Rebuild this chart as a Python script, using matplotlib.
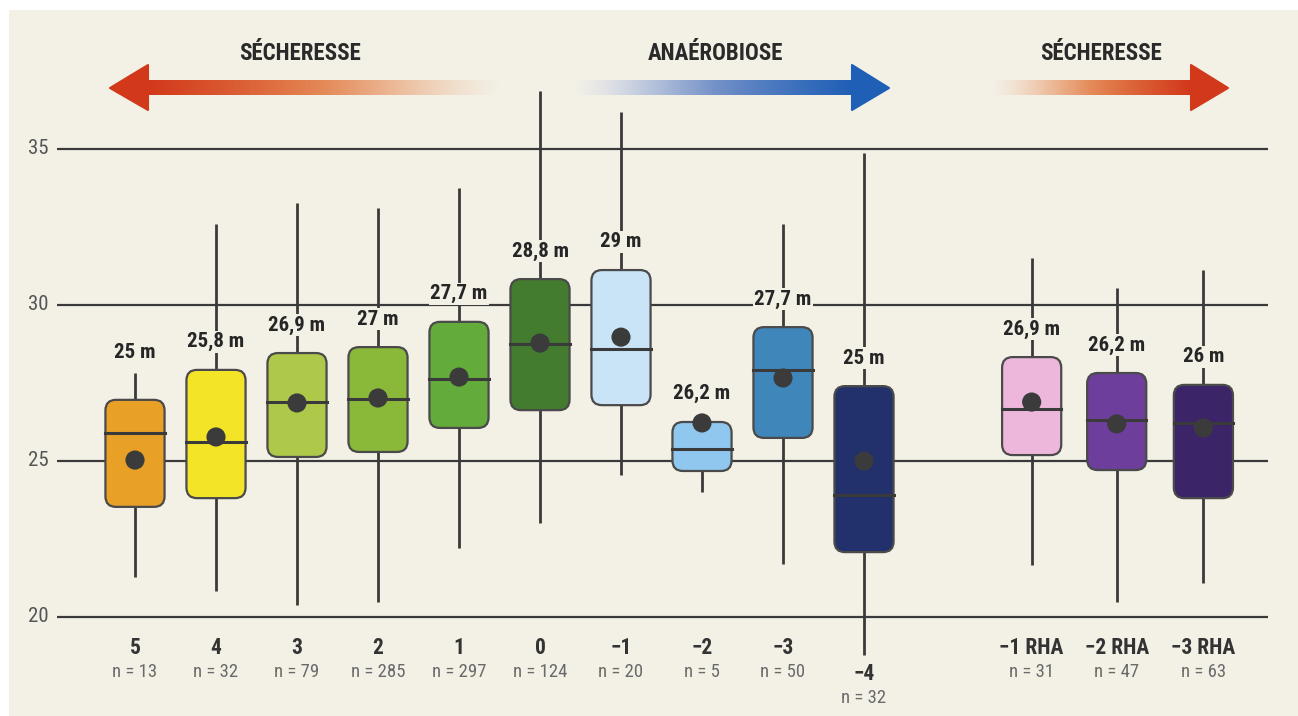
import numpy as np
import matplotlib
matplotlib.use("Agg")
import matplotlib.pyplot as plt
from matplotlib import font_manager
from matplotlib.patches import FancyBboxPatch, Rectangle, Polygon
from matplotlib.colors import LinearSegmentedColormap, to_rgb

# pick a narrow-ish family if one is there
installed = {f.name for f in font_manager.fontManager.ttflist}
main_font = 'DejaVu Sans'
for name in ['Liberation Sans Narrow', 'DejaVu Sans Condensed', 'Roboto Condensed', 'Roboto']:
    if name in installed:
        main_font = name
        break
plt.rcParams['font.family'] = [main_font, 'DejaVu Sans']

# data
categories = ["5", "4", "3", "2", "1", "0", "\u22121", "\u22122", "\u22123", "\u22124",
              "\u22121 RHA", "\u22122 RHA", "\u22123 RHA"]
n_values = [13, 32, 79, 285, 297, 124, 20, 5, 50, 32, 31, 47, 63]
mean_labels = ["25 m", "25,8 m", "26,9 m", "27 m", "27,7 m", "28,8 m", "29 m",
               "26,2 m", "27,7 m", "25 m", "26,9 m", "26,2 m", "26 m"]
means = [25.03, 25.77, 26.86, 27.02, 27.69, 28.78, 28.97, 26.22, 27.66, 25.00, 26.89, 26.19, 26.06]
medians = [25.90, 25.61, 26.89, 26.99, 27.63, 28.75, 28.59, 25.38, 27.92, 23.91, 26.67, 26.31, 26.22]
q1 = [23.53, 23.81, 25.13, 25.29, 26.06, 26.63, 26.79, 24.68, 25.74, 22.08, 25.19, 24.71, 23.81]
q3 = [26.96, 27.92, 28.46, 28.65, 29.46, 30.83, 31.12, 26.25, 29.29, 27.40, 28.33, 27.82, 27.44]
whisk_lo = [21.28, 20.83, 20.38, 20.48, 22.21, 23.01, 24.55, 24.01, 21.70, 18.78, 21.67, 20.48, 21.09]
whisk_hi = [27.82, 32.60, 33.27, 33.11, 33.75, 36.86, 36.19, 26.25, 32.60, 34.87, 31.51, 30.54, 31.12]

box_colors = ['#e8a026', '#f4e428', '#aec94a', '#8ab93a', '#63ab3a', '#437b2f', '#c9e3f7',
              '#90c7ef', '#3f87ba', '#22306b', '#edb7dc', '#6e3e9c', '#3c2468']

positions = list(range(10)) + [11.07, 12.12, 13.19]

bg = '#f3f0e6'
ink = '#3a3a3a'

W, H = 1298, 716
fig = plt.figure(figsize=(W / 100, H / 100), dpi=100, facecolor='white')
fig.patches.append(Rectangle((9 / W, 0), 1 - 9 / W, 1 - 10 / H, transform=fig.transFigure,
                             facecolor=bg, edgecolor='none', zorder=-10))

# main axes, placed so that the grid matches the reference
px_left, px_right, px_top, px_bottom = 57, 1268, 40, 705
ax = fig.add_axes([px_left / W, 1 - px_bottom / H, (px_right - px_left) / W, (px_bottom - px_top) / H])
ax.set_facecolor('none')
ax.set_xlim((px_left - 135) / 81, (px_right - 135) / 81)
ax.set_ylim(20 - (px_bottom - 617) / 31.2, 35 + (149 - px_top) / 31.2)
for s in ax.spines.values():
    s.set_visible(False)
ax.set_xticks([])
ax.set_yticks([])

for yv in [20, 25, 30, 35]:
    ax.axhline(yv, color=ink, lw=1.6, zorder=1)
    ax.text(ax.get_xlim()[0] - 0.1, yv, str(yv), ha='right', va='center',
            fontsize=15, color='#555555')

bw = 0.73
for i, x in enumerate(positions):
    ax.plot([x, x], [q3[i], whisk_hi[i]], color=ink, lw=2, zorder=2, solid_capstyle='butt')
    ax.plot([x, x], [whisk_lo[i], q1[i]], color=ink, lw=2, zorder=2, solid_capstyle='butt')
    box = FancyBboxPatch((x - bw / 2, q1[i]), bw, q3[i] - q1[i],
                         boxstyle="round,pad=0,rounding_size=0.13", mutation_aspect=2.6,
                         facecolor=box_colors[i], edgecolor='#4a4a4a', lw=1.6, zorder=3)
    ax.add_patch(box)
    ax.plot([x - bw / 2, x + bw / 2], [medians[i], medians[i]], color=ink, lw=2.2, zorder=4)
    ax.scatter([x], [means[i]], s=190, color='#3b3b3b', zorder=5, edgecolors='none')

    # mean label above the box
    if whisk_hi[i] < q3[i] + 1.2:
        ly = max(q3[i] + 0.9, whisk_hi[i] + 0.65)
    else:
        ly = q3[i] + 0.9
    ax.text(x, ly, mean_labels[i], ha='center', va='center', fontsize=15, fontweight='bold',
            color='#262626', zorder=6,
            bbox=dict(boxstyle='square,pad=0.08', facecolor=bg, edgecolor='none'))

    # category labels under the grid
    shift = 0.84 if whisk_lo[i] < 19.3 else 0
    ax.text(x, 19.0 - shift, categories[i], ha='center', va='center', fontsize=15.5,
            fontweight='bold', color='#333333')
    ax.text(x, 18.24 - shift, "n = %d" % n_values[i], ha='center', va='center',
            fontsize=13.5, color='#6a6a6a')

# overlay for the arrows, in pixel units
ov = fig.add_axes([0, 0, 1, 1], zorder=-1)
ov.axis('off')
ov.set_facecolor('none')


def grad_arrow(x_head, x_tail, tip, head_color, mid_color, pale_color, label, label_x):
    y0, y1 = 80, 95
    n = 300
    cmap = LinearSegmentedColormap.from_list('g', [head_color, mid_color, pale_color])
    t = np.linspace(0, 1, n)
    rgba = cmap(t)
    bgc = np.array(to_rgb(bg))
    alpha = np.clip(1 - t ** 3.5, 0, 1)
    rgba[:, :3] = rgba[:, :3] * alpha[:, None] + bgc * (1 - alpha[:, None])
    rgba[:, 3] = 1
    img = rgba[None, :, :]
    if x_tail < x_head:
        img = img[:, ::-1, :]
        ext = (x_tail, x_head, y1, y0)
    else:
        ext = (x_head, x_tail, y1, y0)
    ov.imshow(img, extent=ext, aspect='auto', interpolation='bilinear', zorder=1)
    ov.add_patch(Polygon([(tip, 88), (x_head, 65), (x_head, 110)], closed=True,
                         facecolor=head_color, edgecolor=head_color, lw=1.5, joinstyle='round', zorder=2))
    ov.text(label_x, 54, label, ha='center', va='center', fontsize=16.5, fontweight='bold', color='#2a2a2a')


grad_arrow(148, 500, 110, '#d2391b', '#e3804a', '#f2d6bc', 'SÉCHERESSE', 300)
grad_arrow(852, 574, 889, '#1f5fb6', '#6a8ac6', '#d6dbec', 'ANAÉROBIOSE', 715)
grad_arrow(1191, 993, 1228, '#d2391b', '#e3804a', '#f2d6bc', 'SÉCHERESSE', 1101)
ov.set_xlim(0, W)
ov.set_ylim(H, 0)

fig.savefig('out.png', dpi=100, facecolor='white')
